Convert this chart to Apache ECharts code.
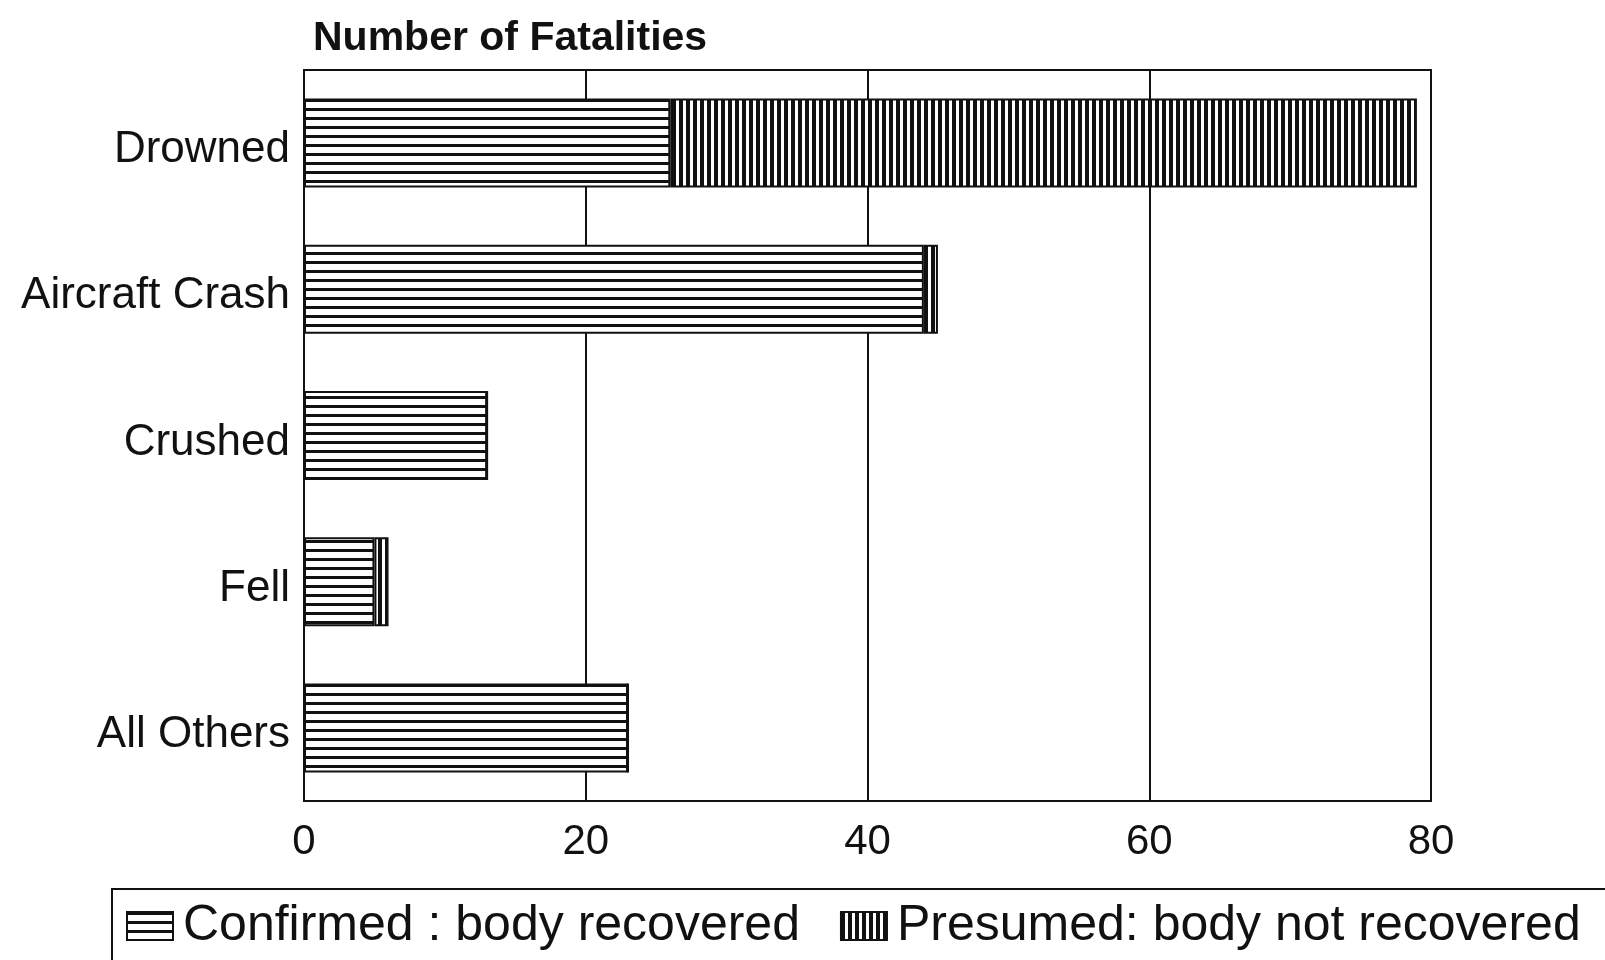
<!DOCTYPE html>
<html>
<head>
<meta charset="utf-8">
<script src="https://cdn.jsdelivr.net/npm/echarts@6/dist/echarts.min.js"></script>
<style>html,body{margin:0;padding:0;background:#fff;}#c{width:1605px;height:960px;}</style>
</head>
<body>
<div id="c"></div>
<script>
const categories = ['Drowned', 'Aircraft Crash', 'Crushed', 'Fell', 'All Others'];
const confirmed = [26, 44, 13, 5, 23];
const presumed = [53, 1, 0, 1, 0];
const xTicks = [0, 20, 40, 60, 80];
const seriesNames = ['Confirmed : body recovered', 'Presumed: body not recovered'];
const titleText = 'Number of Fatalities';

function hPattern() {
  const c = document.createElement('canvas');
  c.width = 8; c.height = 9;
  const x = c.getContext('2d');
  x.fillStyle = '#fff'; x.fillRect(0, 0, 8, 9);
  x.fillStyle = '#111'; x.fillRect(0, 0, 8, 3);
  return c;
}
function vPattern() {
  const c = document.createElement('canvas');
  c.width = 7; c.height = 8;
  const x = c.getContext('2d');
  x.fillStyle = '#fff'; x.fillRect(0, 0, 7, 8);
  x.fillStyle = '#111'; x.fillRect(0, 0, 4, 8);
  return c;
}

const font = 'Liberation Sans, Arial, sans-serif';
const chart = echarts.init(document.getElementById('c'), null, {renderer: 'canvas'});
chart.setOption({
  backgroundColor: '#fff',
  animation: false,
  title: {
    text: titleText,
    left: 308, top: 13,
    textStyle: {fontFamily: font, fontWeight: 'bold', fontSize: 41, color: '#111'}
  },
  grid: {
    left: 304, right: 174, top: 70, bottom: 159,
    show: true, borderColor: '#111', borderWidth: 2, containLabel: false
  },
  legend: {
    left: 112, top: 889, width: 1540,
    padding: [12, 60, 30, 14],
    borderColor: '#111', borderWidth: 2,
    itemWidth: 46, itemHeight: 28, itemGap: 40,
    icon: 'rect',
    itemStyle: {borderColor: '#111', borderWidth: 2},
    textStyle: {fontFamily: font, fontSize: 50, color: '#111', lineHeight: 50, padding: [0, 0, 0, 5]},
    data: seriesNames
  },
  xAxis: {
    type: 'value', min: xTicks[0], max: xTicks[xTicks.length - 1], interval: 20,
    axisLine: {show: true, lineStyle: {color: '#111', width: 2}},
    axisTick: {show: false},
    splitLine: {show: true, lineStyle: {color: '#111', width: 2}},
    axisLabel: {fontFamily: font, fontSize: 42, color: '#111', margin: 20}
  },
  yAxis: {
    type: 'category', data: categories, inverse: true,
    axisLine: {show: true, lineStyle: {color: '#111', width: 2}},
    axisTick: {show: false},
    splitLine: {show: false},
    axisLabel: {
      margin: 14,
      formatter: function (v) { return '{a|' + v + '}'; },
      rich: {a: {fontFamily: font, fontSize: 44, color: '#111', lineHeight: 44, padding: [14, 0, 0, 0]}}
    }
  },
  series: [
    {
      name: seriesNames[0], type: 'bar', stack: 'total', data: confirmed, barWidth: 89,
      itemStyle: {color: {image: hPattern(), repeat: 'repeat'}, borderColor: '#111', borderWidth: 2}
    },
    {
      name: seriesNames[1], type: 'bar', stack: 'total', data: presumed, barWidth: 89,
      itemStyle: {color: {image: vPattern(), repeat: 'repeat'}, borderColor: '#111', borderWidth: 2}
    }
  ]
});
</script>
</body>
</html>
